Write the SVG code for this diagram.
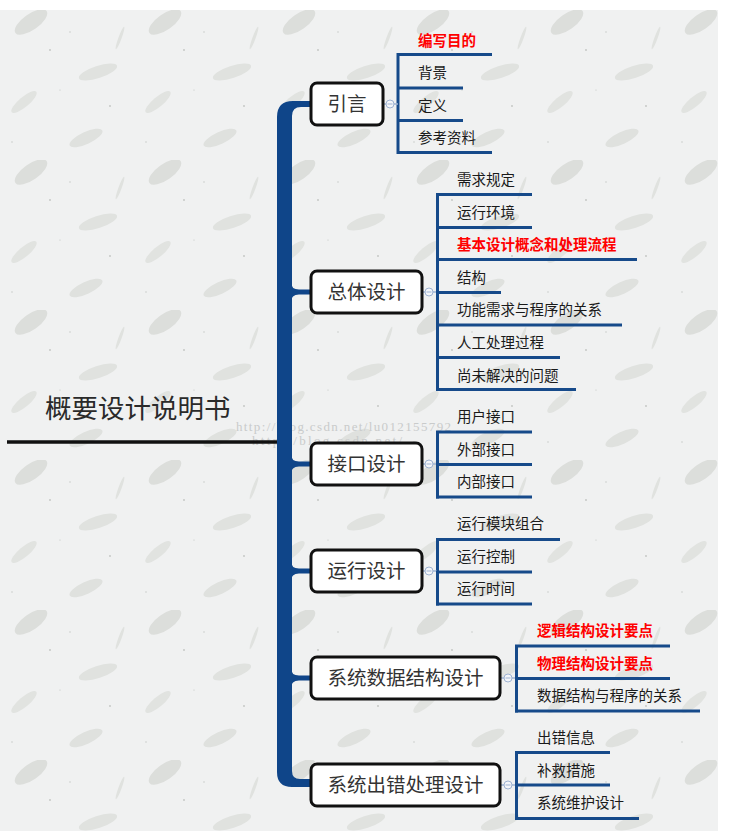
<svg xmlns="http://www.w3.org/2000/svg" width="746" height="831" viewBox="0 0 746 831">
<defs>
<pattern id="paper" x="0" y="10" width="134" height="150" patternUnits="userSpaceOnUse">
<rect width="134" height="150" fill="#f0f1f1"/>
<ellipse cx="31" cy="12" rx="19" ry="8" transform="rotate(-35 31 12)" fill="#dcdedb"/>
<ellipse cx="98" cy="62" rx="20" ry="6" transform="rotate(-18 98 62)" fill="#e0e2df"/>
<ellipse cx="24" cy="92" rx="16" ry="5" transform="rotate(-40 24 92)" fill="#e1e3e0"/>
<ellipse cx="86" cy="128" rx="18" ry="6" transform="rotate(-25 86 128)" fill="#dfe1de"/>
<ellipse cx="120" cy="28" rx="12" ry="1.6" transform="rotate(-70 120 28)" fill="#e0e2df"/>
<circle cx="50" cy="40" r="0.9" fill="#c2c5c2"/>
<circle cx="70" cy="22" r="0.7" fill="#c2c5c2"/>
<circle cx="110" cy="96" r="0.9" fill="#c2c5c2"/>
<circle cx="12" cy="132" r="0.7" fill="#c2c5c2"/>
<circle cx="60" cy="80" r="0.6" fill="#c2c5c2"/>
</pattern>
<style>
.node rect{fill:#fff;stroke:#111;stroke-width:3}
.node text{font-family:"Noto Sans CJK SC","Liberation Sans",sans-serif;font-size:19.5px;fill:#333;text-anchor:middle}
.leaf text{font-family:"Noto Sans CJK SC","Liberation Sans",sans-serif;font-size:14.5px;fill:#1a1a1a}
.leaf text.red{fill:#ff0000;font-weight:bold}
.leaf line,.conn line{stroke:#164a8a;stroke-width:3}
.icon{fill:#f4f6fa;stroke:#9fb3d2;stroke-width:1}
.conn line.iconm{stroke:#9fb3d2;stroke-width:1}
.conn line.thin{stroke:#9fb3d2;stroke-width:1.5}
.wm{font-family:"Liberation Serif",serif;font-size:13px;fill:#c9cbcb}
</style>
</defs>
<rect x="0" y="0" width="746" height="831" fill="#ffffff"/>
<rect x="0" y="10" width="718" height="821" fill="url(#paper)"/>

<g id="root">
<text x="45" y="418" style="font-family:'Noto Sans CJK SC','Liberation Sans',sans-serif;font-size:26.5px;fill:#2a2a2a">概要设计说明书</text>
</g>

<text class="wm" x="236" y="431" textLength="215" lengthAdjust="spacing">http://blog.csdn.net/lu012155792</text>
<text class="wm" x="252" y="445" textLength="150" lengthAdjust="spacing">http://blog.csdn.net/</text>

<g id="connectors" class="conn">
<line x1="7" y1="442" x2="285" y2="442" style="stroke:#111;stroke-width:3.5"/>
<path d="M277,117 Q277,101 293,101 L312,101 L312,107 L301,107 Q292,107 292,116 L292,771 Q292,779 300,779 L312,779 L312,787 L292,787 Q277,787 277,772 Z" fill="#0f4589"/>
<path d="M291,282 Q291,289.5 299,289.5 L312,289.5 L312,294.5 L299,294.5 Q291,294.5 291,302 Z" fill="#0f4589"/>
<path d="M291,454 Q291,461.5 299,461.5 L312,461.5 L312,466.5 L299,466.5 Q291,466.5 291,474 Z" fill="#0f4589"/>
<path d="M291,561 Q291,568.5 299,568.5 L312,568.5 L312,573.5 L299,573.5 Q291,573.5 291,581 Z" fill="#0f4589"/>
<path d="M291,668 Q291,675.5 299,675.5 L312,675.5 L312,680.5 L299,680.5 Q291,680.5 291,688 Z" fill="#0f4589"/>
<line x1="398" y1="53" x2="398" y2="154"/>
<line x1="437.5" y1="193" x2="437.5" y2="391"/>
<line x1="437.5" y1="431" x2="437.5" y2="498.5"/>
<line x1="437.5" y1="538" x2="437.5" y2="605.5"/>
<line x1="516.5" y1="645" x2="516.5" y2="712.5"/>
<line x1="516.5" y1="751" x2="516.5" y2="820"/>
<line class="thin" x1="383" y1="104" x2="398" y2="104"/>
<circle class="icon" cx="390" cy="104" r="4"/><line class="iconm" x1="387.5" y1="104" x2="392.5" y2="104"/>
<line class="thin" x1="422" y1="292" x2="437" y2="292"/>
<circle class="icon" cx="429" cy="292" r="4"/><line class="iconm" x1="426.5" y1="292" x2="431.5" y2="292"/>
<line class="thin" x1="422" y1="464" x2="437" y2="464"/>
<circle class="icon" cx="429" cy="464" r="4"/><line class="iconm" x1="426.5" y1="464" x2="431.5" y2="464"/>
<line class="thin" x1="422" y1="571" x2="437" y2="571"/>
<circle class="icon" cx="429" cy="571" r="4"/><line class="iconm" x1="426.5" y1="571" x2="431.5" y2="571"/>
<line class="thin" x1="500" y1="678" x2="516" y2="678"/>
<circle class="icon" cx="508" cy="678" r="4"/><line class="iconm" x1="505.5" y1="678" x2="510.5" y2="678"/>
<line class="thin" x1="500" y1="785" x2="516" y2="785"/>
<circle class="icon" cx="508" cy="785" r="4"/><line class="iconm" x1="505.5" y1="785" x2="510.5" y2="785"/>
</g>

<g id="n-yinyan" class="node"><rect x="311" y="83" width="72" height="42" rx="6"/><text x="347" y="111">引言</text></g>
<g id="n-zongti" class="node"><rect x="311" y="271" width="111" height="42" rx="6"/><text x="366.5" y="299">总体设计</text></g>
<g id="n-jiekou" class="node"><rect x="311" y="443" width="111" height="42" rx="6"/><text x="366.5" y="471">接口设计</text></g>
<g id="n-yunxing" class="node"><rect x="311" y="550" width="111" height="42" rx="6"/><text x="366.5" y="578">运行设计</text></g>
<g id="n-shuju" class="node"><rect x="311" y="657" width="189" height="42" rx="6"/><text x="405.5" y="685">系统数据结构设计</text></g>
<g id="n-chucuo" class="node"><rect x="311" y="764" width="189" height="42" rx="6"/><text x="405.5" y="792">系统出错处理设计</text></g>

<g id="l-bianxie" class="leaf"><text class="red" x="418" y="46">编写目的</text><line x1="397" y1="54.5" x2="492" y2="54.5"/></g>
<g id="l-beijing" class="leaf"><text x="418" y="78">背景</text><line x1="397" y1="88" x2="463" y2="88"/></g>
<g id="l-dingyi" class="leaf"><text x="418" y="111">定义</text><line x1="397" y1="120.5" x2="463" y2="120.5"/></g>
<g id="l-cankao" class="leaf"><text x="418" y="143">参考资料</text><line x1="397" y1="152.5" x2="492" y2="152.5"/></g>

<g id="l-xuqiu" class="leaf"><text x="457" y="185">需求规定</text><line x1="436" y1="194.5" x2="532" y2="194.5"/></g>
<g id="l-huanjing" class="leaf"><text x="457" y="218">运行环境</text><line x1="436" y1="227.5" x2="532" y2="227.5"/></g>
<g id="l-jiben" class="leaf"><text class="red" x="457" y="250">基本设计概念和处理流程</text><line x1="436" y1="259.5" x2="637" y2="259.5"/></g>
<g id="l-jiegou" class="leaf"><text x="457" y="283">结构</text><line x1="436" y1="292.5" x2="501" y2="292.5"/></g>
<g id="l-gongneng" class="leaf"><text x="457" y="315">功能需求与程序的关系</text><line x1="436" y1="325" x2="622" y2="325"/></g>
<g id="l-rengong" class="leaf"><text x="457" y="348">人工处理过程</text><line x1="436" y1="357.5" x2="560" y2="357.5"/></g>
<g id="l-shangwei" class="leaf"><text x="457" y="381">尚未解决的问题</text><line x1="436" y1="389.5" x2="576" y2="389.5"/></g>

<g id="l-yonghu" class="leaf"><text x="457" y="422">用户接口</text><line x1="436" y1="432" x2="532" y2="432"/></g>
<g id="l-waibu" class="leaf"><text x="457" y="455">外部接口</text><line x1="436" y1="464.5" x2="532" y2="464.5"/></g>
<g id="l-neibu" class="leaf"><text x="457" y="487">内部接口</text><line x1="436" y1="497" x2="532" y2="497"/></g>

<g id="l-mokuai" class="leaf"><text x="457" y="529">运行模块组合</text><line x1="436" y1="539.5" x2="560" y2="539.5"/></g>
<g id="l-kongzhi" class="leaf"><text x="457" y="561.5">运行控制</text><line x1="436" y1="572" x2="532" y2="572"/></g>
<g id="l-shijian" class="leaf"><text x="457" y="594">运行时间</text><line x1="436" y1="604" x2="532" y2="604"/></g>

<g id="l-luoji" class="leaf"><text class="red" x="537" y="636">逻辑结构设计要点</text><line x1="515" y1="646" x2="670" y2="646"/></g>
<g id="l-wuli" class="leaf"><text class="red" x="537" y="668.5">物理结构设计要点</text><line x1="515" y1="678.5" x2="670" y2="678.5"/></g>
<g id="l-guanxi" class="leaf"><text x="537" y="701">数据结构与程序的关系</text><line x1="515" y1="711" x2="700" y2="711"/></g>

<g id="l-xinxi" class="leaf"><text x="537" y="743">出错信息</text><line x1="515" y1="752.5" x2="610" y2="752.5"/></g>
<g id="l-bujiu" class="leaf"><text x="537" y="775.5">补救措施</text><line x1="515" y1="785" x2="610" y2="785"/></g>
<g id="l-weihu" class="leaf"><text x="537" y="808">系统维护设计</text><line x1="515" y1="818.5" x2="639" y2="818.5"/></g>
</svg>
